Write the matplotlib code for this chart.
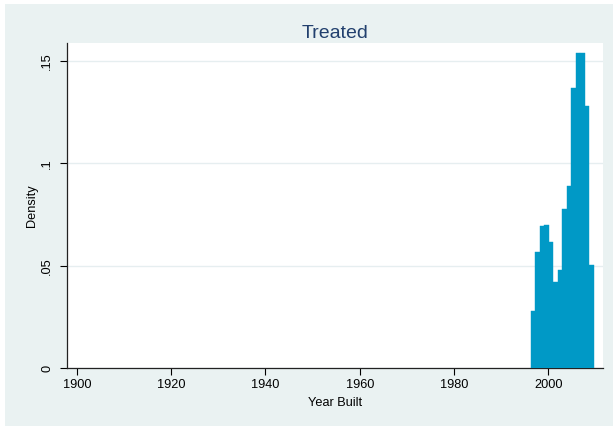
import numpy as np
import matplotlib
matplotlib.use("Agg")
import matplotlib.pyplot as plt
from matplotlib.patches import Rectangle

plt.rcParams["font.family"] = ["Liberation Sans", "DejaVu Sans"]

# histogram bins (year built, density)
bin_edges = [1996.27, 1997.22, 1998.18, 1999.13, 2000.09, 2001.04, 2002.00,
             2002.95, 2003.90, 2004.86, 2005.81, 2006.76, 2007.72, 2008.67, 2009.63]
density = [0.0277, 0.0565, 0.0692, 0.0700, 0.0615, 0.0420, 0.0480,
           0.0778, 0.0887, 0.1368, 0.1539, 0.1539, 0.1281, 0.0501]

x_ticks = [1900, 1920, 1940, 1960, 1980, 2000]
y_ticks = [0, 0.05, 0.1, 0.15]
y_tick_labels = ["0", ".05", ".1", ".15"]

W, H = 613, 426
fig = plt.figure(figsize=(W / 100, H / 100), dpi=100)
fig.patch.set_facecolor("white")
# light graph region
fig.add_artist(Rectangle((5 / W, 0), 1 - 5 / W, (H - 4) / H,
                         transform=fig.transFigure, facecolor="#eaf2f2",
                         edgecolor="none", zorder=-10))

ax = fig.add_axes([67 / W, (H - 368) / H, (603 - 67) / W, (368 - 43) / H])
ax.set_facecolor("white")

edges = np.array(bin_edges)
ax.bar(edges[:-1], density, width=np.diff(edges), align="edge",
       color="#0099c6", edgecolor="#0099c6", linewidth=0.3, zorder=3)

ax.set_xlim(1897.92, 2011.6)
ax.set_ylim(0, 0.1588)

ax.set_xticks(x_ticks)
ax.set_xticklabels([str(t) for t in x_ticks], fontsize=9.2)
ax.set_yticks(y_ticks)
ax.set_yticklabels(y_tick_labels, rotation=90, va="center", fontsize=9.2)

ax.tick_params(axis="x", length=5, width=0.8, pad=3)
ax.tick_params(axis="y", length=5, width=0.8, pad=5)

ax.grid(axis="y", color="#e6eef0", linewidth=1.0, zorder=0)
ax.set_axisbelow(True)

for side in ["top", "right"]:
    ax.spines[side].set_visible(False)
for side in ["left", "bottom"]:
    ax.spines[side].set_linewidth(0.9)
    ax.spines[side].set_color("#222222")

ax.set_xlabel("Year Built", fontsize=9.2, labelpad=4)
ax.set_ylabel("Density", fontsize=9.2, labelpad=2)
ax.set_title("Treated", fontsize=14, color="#22406e", pad=3.5)

fig.savefig("out.png", dpi=100, facecolor=fig.get_facecolor())
